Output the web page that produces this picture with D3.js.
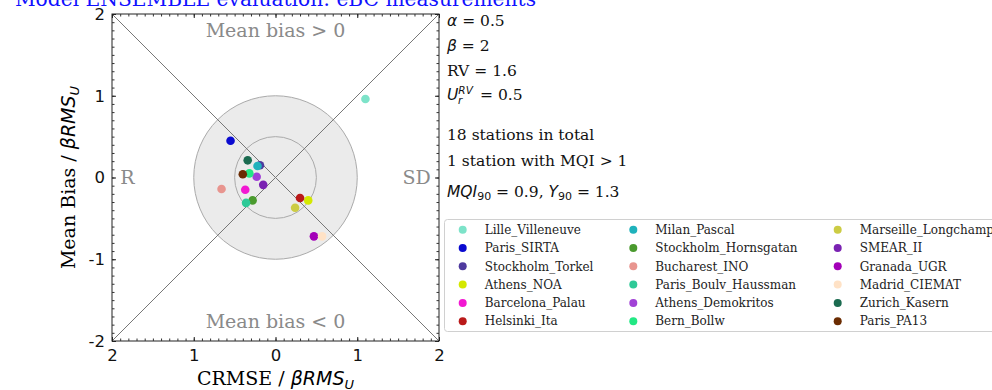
<!DOCTYPE html>
<html lang="en">
<head>
  <meta charset="UTF-8">
  <title>Model ENSEMBLE evaluation: eBC measurements</title>
  <script src="https://d3js.org/d3.v7.min.js"></script>
  <style>
    body { margin: 0; background: white; }
    .serif { font-family: 'DejaVu Serif', serif; }
    .math { font-family: 'DejaVu Sans', sans-serif; font-style: italic; }
    .tick text { font-family: 'DejaVu Sans', sans-serif; font-size: 16.5px; fill: #111; }
  </style>
</head>
<body>
  <svg width="992" height="390"></svg>

  <script>
    // stations, in legend order
    const stations = [
      "Lille_Villeneuve", "Paris_SIRTA", "Stockholm_Torkel", "Athens_NOA", "Barcelona_Palau", "Helsinki_Ita",
      "Milan_Pascal", "Stockholm_Hornsgatan", "Bucharest_INO", "Paris_Boulv_Haussman", "Athens_Demokritos", "Bern_Bollw",
      "Marseille_Longchamp", "SMEAR_II", "Granada_UGR", "Madrid_CIEMAT", "Zurich_Kasern", "Paris_PA13"
    ];
    // CRMSE / beta RMS_U (negative = R side, positive = SD side)
    const crmse = [1.10, -0.55, -0.19, 0.40, -0.37, 0.30,
                   -0.22, -0.28, -0.66, -0.36, -0.23, -0.32,
                   0.24, -0.15, 0.47, 0.57, -0.34, -0.40];
    // Mean bias / beta RMS_U
    const bias = [0.96, 0.45, 0.15, -0.28, -0.15, -0.25,
                  0.14, -0.28, -0.14, -0.31, 0.01, 0.05,
                  -0.37, -0.09, -0.72, -0.72, 0.21, 0.04];
    const colors = ["#7de3c9", "#0a0ad0", "#4e3a9e", "#d4e800", "#f218d2", "#ba1a1a",
                    "#1fb2bc", "#4a9a2e", "#e8958f", "#2ec997", "#a142d6", "#22e884",
                    "#cccc44", "#7a22b2", "#a300b8", "#ffe2c6", "#1b6b50", "#6b2c02"];

    const svg = d3.select("svg");
    const x = d3.scaleLinear().domain([-2, 2]).range([112, 439]);
    const y = d3.scaleLinear().domain([-2, 2]).range([341, 14]);
    const color = d3.scaleOrdinal(stations, colors);

    // target circles
    svg.append("circle")
      .attr("cx", x(0)).attr("cy", y(0))
      .attr("r", x(1) - x(0))
      .attr("fill", "#ebebeb").attr("stroke", "#aaa").attr("stroke-width", 1);
    svg.append("circle")
      .attr("cx", x(0)).attr("cy", y(0))
      .attr("r", x(0.5) - x(0))
      .attr("fill", "none").attr("stroke", "#aaa").attr("stroke-width", 1);

    // diagonals
    svg.append("line")
      .attr("x1", x(-2)).attr("y1", y(2)).attr("x2", x(2)).attr("y2", y(-2))
      .attr("stroke", "#777").attr("stroke-width", 1);
    svg.append("line")
      .attr("x1", x(-2)).attr("y1", y(-2)).attr("x2", x(2)).attr("y2", y(2))
      .attr("stroke", "#777").attr("stroke-width", 1);

    // quadrant labels
    const grey = "#8a8a8a";
    svg.append("text").attr("class", "serif").attr("x", x(0)).attr("y", y(1.72))
      .attr("text-anchor", "middle").attr("font-size", 19).attr("fill", grey).text("Mean bias > 0");
    svg.append("text").attr("class", "serif").attr("x", x(0)).attr("y", y(-1.84))
      .attr("text-anchor", "middle").attr("font-size", 19).attr("fill", grey).text("Mean bias < 0");
    svg.append("text").attr("class", "serif").attr("x", x(-1.9)).attr("y", y(-0.08))
      .attr("font-size", 19).attr("fill", grey).text("R");
    svg.append("text").attr("class", "serif").attr("x", x(1.9)).attr("y", y(-0.08))
      .attr("text-anchor", "end").attr("font-size", 19).attr("fill", grey).text("SD");

    // points
    svg.append("g").selectAll("circle")
      .data(stations)
      .join("circle")
      .attr("cx", (d, i) => x(crmse[i]))
      .attr("cy", (d, i) => y(bias[i]))
      .attr("r", 4.3)
      .attr("fill", d => color(d));

    // frame
    svg.append("rect")
      .attr("x", x(-2)).attr("y", y(2))
      .attr("width", x(2) - x(-2)).attr("height", y(-2) - y(2))
      .attr("fill", "none").attr("stroke", "#222").attr("stroke-width", 1);

    // ticks on all four sides, pointing inward
    const major = [-2, -1, 0, 1, 2];
    const minor = d3.range(-20, 21).map(d => d / 10);
    function addAxis(axisFn, scale, transform, labels) {
      const gMinor = svg.append("g").attr("transform", transform)
        .call(axisFn(scale).tickValues(minor).tickSize(-2.5).tickFormat(""));
      gMinor.select(".domain").remove();
      gMinor.selectAll("line").attr("stroke", "#333");
      const gMajor = svg.append("g").attr("transform", transform)
        .call(axisFn(scale).tickValues(major).tickSizeInner(-4).tickSizeOuter(0).tickPadding(8)
          .tickFormat(labels ? labels : ""));
      gMajor.select(".domain").remove();
      gMajor.selectAll("line").attr("stroke", "#222");
      return gMajor;
    }
    const gx = addAxis(d3.axisBottom, x, `translate(0,${y(-2)})`, d => Math.abs(d));
    gx.selectAll("text").attr("dy", "0.95em").attr("y", 4);
    addAxis(d3.axisTop, x, `translate(0,${y(2)})`, null);
    const gy = addAxis(d3.axisLeft, y, `translate(${x(-2)},0)`, d => d);
    gy.selectAll("text").attr("x", -7);
    addAxis(d3.axisRight, y, `translate(${x(2)},0)`, null);

    // axis labels
    const xl = svg.append("text").attr("class", "serif")
      .attr("x", x(0)).attr("y", 385).attr("text-anchor", "middle").attr("font-size", 19);
    xl.append("tspan").text("CRMSE / ");
    xl.append("tspan").attr("class", "math").text("βRMS");
    xl.append("tspan").attr("class", "math").attr("font-size", 13).attr("dy", 4).text("U");

    const yl = svg.append("text").attr("class", "serif")
      .attr("transform", `translate(75,${y(0)}) rotate(-90)`)
      .attr("text-anchor", "middle").attr("font-size", 19);
    yl.append("tspan").text("Mean Bias / ");
    yl.append("tspan").attr("class", "math").text("βRMS");
    yl.append("tspan").attr("class", "math").attr("font-size", 13).attr("dy", 4).text("U");

    // title
    svg.append("text").attr("class", "serif")
      .attr("x", x(0)).attr("y", 6).attr("text-anchor", "middle")
      .attr("font-size", 20.2).attr("fill", "#1010ff")
      .text("Model ENSEMBLE evaluation: eBC measurements");

    // parameter annotations
    const ax = 447, fs = 15.5;
    function note(yPos) {
      return svg.append("text").attr("class", "serif").attr("x", ax).attr("y", yPos)
        .attr("font-size", fs).attr("fill", "#111");
    }
    let t = note(26);
    t.append("tspan").attr("class", "math").text("α");
    t.append("tspan").text(" = 0.5");
    t = note(51);
    t.append("tspan").attr("class", "math").text("β");
    t.append("tspan").text(" = 2");
    note(76).text("RV = 1.6");
    t = note(100);
    t.append("tspan").attr("class", "math").text("U");
    t.append("tspan").attr("class", "math").attr("font-size", 10.5).attr("dy", -6).text("RV");
    t.append("tspan").attr("class", "math").attr("font-size", 10.5).attr("x", ax + 11).attr("dy", 10).text("r");
    t.append("tspan").attr("x", ax + 33).attr("dy", -4).text("= 0.5");
    note(140).text("18 stations in total");
    note(166).text("1 station with MQI > 1");
    t = note(197);
    t.append("tspan").attr("class", "math").text("MQI");
    t.append("tspan").attr("font-family", "'DejaVu Sans', sans-serif").attr("font-size", 11).attr("dy", 3).text("90");
    t.append("tspan").attr("dy", -3).text(" = 0.9, ");
    t.append("tspan").attr("class", "math").text("Y");
    t.append("tspan").attr("font-family", "'DejaVu Sans', sans-serif").attr("font-size", 11).attr("dy", 3).text("90");
    t.append("tspan").attr("dy", -3).text(" = 1.3");

    // legend
    const legend = svg.append("g");
    legend.append("rect")
      .attr("x", 444.5).attr("y", 219.5).attr("width", 600).attr("height", 112)
      .attr("rx", 3).attr("fill", "white").attr("stroke", "#d0d0d0");
    const colX = [462.7, 633.3, 837.7];
    const item = legend.selectAll("g.item")
      .data(stations)
      .join("g")
      .attr("class", "item")
      .attr("transform", (d, i) => `translate(${colX[Math.floor(i / 6)]},${229.7 + (i % 6) * 18.3})`);
    item.append("circle").attr("r", 4).attr("fill", d => color(d));
    item.append("text").attr("class", "serif")
      .attr("x", 22).attr("dy", "0.35em").attr("font-size", 12).attr("fill", "#222")
      .text(d => d);
  </script>
</body>
</html>
